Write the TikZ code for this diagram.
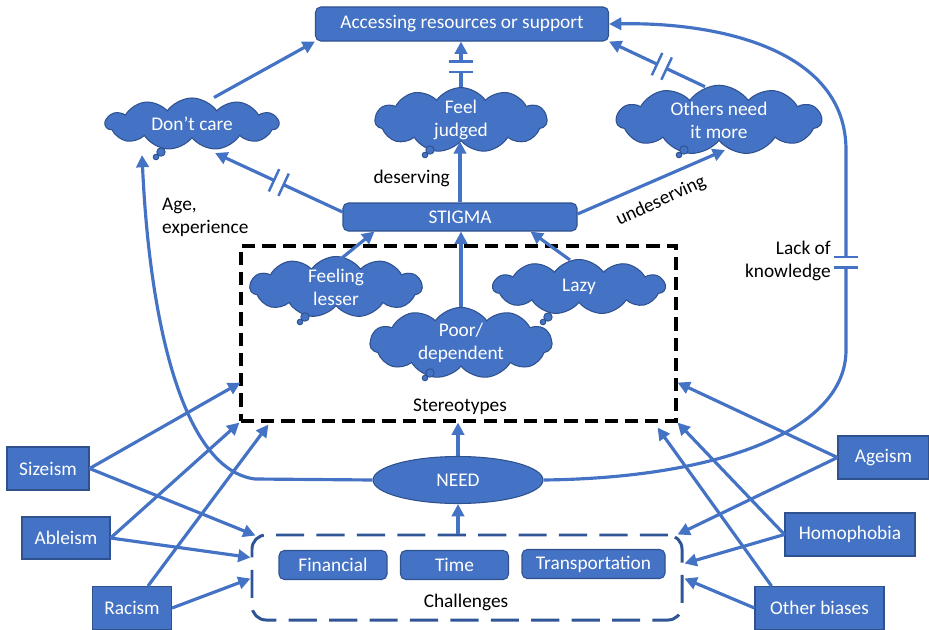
\documentclass[tikz,border=0pt]{standalone}
\usepackage{fontspec}
\setmainfont{Carlito}
\usetikzlibrary{arrows.meta,positioning,shapes,calc,decorations.markings}
\definecolor{officeblue}{HTML}{4472C4}
\definecolor{officeedge}{HTML}{2F528F}
\definecolor{chaledge}{HTML}{2F5597}

\begin{document}
\begin{tikzpicture}[
		x=0.2mm, y=-0.2mm,
		>={Triangle[length=7pt,width=7pt]},
		every node/.style={
			font=\fontsize{11}{13}\selectfont
		},
		bluebox/.style={
			draw=officeedge,
			fill=officeblue,
			text=white,
			line width=0.6pt,
			inner sep=0pt,
			minimum height=8.6mm
		},
		roundbox/.style={
			bluebox,
			rounded corners=3pt
		},
		thought/.style={
			cloud,
			cloud puffs=11,
			cloud puff arc=110,
			cloud ignores aspect,
			draw=officeedge,
			fill=officeblue,
			text=white,
			line width=0.6pt,
			align=center,
			inner sep=0pt,
			minimum width=3.44cm,
			minimum height=1.1cm
		},
		bubble/.style={
			draw=officeedge,
			fill=officeblue,
			line width=0.5pt
		},
		connector/.style={
			->,
			draw=officeblue,
			line width=1.8pt
		},
		brk/.style={
			postaction={decorate},
			decoration={markings,
				mark=at position #1 with {
					\fill[white] (-3pt,-7pt) rectangle (3pt,7pt);
					\draw[-,officeblue,line width=1.4pt] (-3pt,-7pt) -- (-3pt,7pt) (3pt,-7pt) -- (3pt,7pt);
				}}
		}
		]
		\useasboundingbox (0,0) rectangle (929,630);
		
		% top row
		\node[roundbox, minimum width=58.6mm, minimum height=6.8mm] (ACC) at (462,24) {Accessing resources or support};
		\node[thought, minimum width=3.46cm, minimum height=1.04cm] (DC) at (192,124) {Don’t care};
		\node[thought] (FJ) at (461,120) {Feel\\judged};
		\node[thought, minimum width=4.1cm] (ONM) at (719,120) {Others need\\it more};
		\node[roundbox, minimum width=46.8mm, minimum height=5.6mm] (STIG) at (460,217) {STIGMA};
		
		% stereotypes
		\node[draw, line width=1.8pt, dash pattern=on 7.5pt off 4pt, minimum width=87mm, minimum height=35mm] (STER) at (458.5,333.5) {};
		\node[thought] (FL) at (336,287) {Feeling\\lesser};
		\node[thought] (LAZY) at (579,287) {Lazy};
		\node[thought, minimum width=3.64cm, minimum height=1.04cm] (POOR) at (461,343) {Poor/\\dependent};
		\node (STERL) at (460,407) {Stereotypes};
		
		\filldraw[bubble] ($(DC)+(-31,28)$) circle (2.4pt) ($(DC)+(-36,33)$) circle (1.6pt);
		\filldraw[bubble] ($(FJ)+(-31,30)$) circle (2.4pt) ($(FJ)+(-36,35)$) circle (1.6pt);
		\filldraw[bubble] ($(ONM)+(-35,30)$) circle (2.4pt) ($(ONM)+(-40,35)$) circle (1.6pt);
		\filldraw[bubble] ($(FL)+(-31,30)$) circle (2.4pt) ($(FL)+(-36,35)$) circle (1.6pt);
		\filldraw[bubble] ($(LAZY)+(-31,30)$) circle (2.4pt) ($(LAZY)+(-36,35)$) circle (1.6pt);
		\filldraw[bubble] ($(POOR)+(-31,30)$) circle (2.4pt) ($(POOR)+(-36,35)$) circle (1.6pt);
		
		% need and challenges
		\node[ellipse, draw=officeedge, fill=officeblue, text=white, line width=0.6pt, minimum width=34mm, minimum height=9.4mm, inner sep=0pt] (NEED) at (458,480) {NEED};
		\node[draw=chaledge, line width=1.7pt, dash pattern=on 16pt off 7pt, rounded corners=8pt, minimum width=86mm, minimum height=17mm] (CHAL) at (467,577.5) {};
		\node[roundbox, minimum width=21.6mm, minimum height=5.8mm] (FIN) at (333,565) {Financial};
		\node[roundbox, minimum width=21.6mm, minimum height=5.8mm] (TIME) at (454.5,565) {Time};
		\node[roundbox, minimum width=28.6mm, minimum height=5.8mm] (TRANS) at (593.5,564) {Transportation};
		\node (CHALL) at (466,602) {Challenges};
		
		% biases
		\node[bluebox, minimum width=16.4mm] (SIZ) at (48,468.5) {Sizeism};
		\node[bluebox, minimum width=17.6mm, minimum height=8.4mm] (ABL) at (66,538) {Ableism};
		\node[bluebox, minimum width=15.8mm] (RAC) at (132,608) {Racism};
		\node[bluebox, minimum width=18.2mm] (AGE) at (883.5,457.5) {Ageism};
		\node[bluebox, minimum width=26mm] (HOM) at (850,534.5) {Homophobia};
		\node[bluebox, minimum width=25.8mm] (OTH) at (819.5,608) {Other biases};
		
		% labels
		\node[anchor=east] (DES) at (456,178) {deserving};
		\node[rotate=25] (UND) at (661,201) {undeserving};
		\node[anchor=west, align=left] (AGEX) at (156,217) {Age,\\experience};
		\node[anchor=east, align=right] (LACK) at (837,261) {Lack of\\knowledge};
		
		% connectors to access
		\draw[connector] ($(DC.north)+(22,0)$) -- (ACC.south west);
		\draw[connector, brk=0.45] (FJ.north) -- (FJ.north |- ACC.south);
		\draw[connector, brk=0.45] ($(ONM.north)+(-14,2)$) -- (ACC.south east);
		\draw[connector] (NEED.east) .. controls (720,478) and (846,430) .. (846,350) -- (846,150) .. controls (846,50) and (720,22) .. (ACC.east);
		\path[brk=0.5] (846,250) -- (846,274);
		\draw[connector] (NEED.west) -- (255,479) .. controls (185,470) and (150,330) .. ($(DC.center)+(-50,31)$);
		
		% stigma
		\draw[connector, brk=0.5] ($(STIG.west)+(0,-5)$) -- ($(DC.center)+(23,29)$);
		\draw[connector] (STIG.north) -- (STIG.north |- FJ.south);
		\draw[connector] ($(STIG.east)+(0,-3)$) -- ($(ONM.center)+(6,30)$);
		\draw[connector] ($(FL.center)+(1,-25)$) -- ($(STIG.south west)+(32,0)$);
		\draw[connector] (POOR.north) -- (POOR.north |- STIG.south);
		\draw[connector] ($(LAZY.center)+(-9,-27)$) -- ($(STIG.south east)+(-47,0)$);
		\draw[connector] (NEED.north) -- (NEED.north |- STER.south);
		\draw[connector] (NEED.south |- CHAL.north) -- (NEED.south);
		
		% biases to stereotypes and challenges
		\draw[connector] (SIZ.east) -- ($(STER.south west)+(1,-40)$);
		\draw[connector] (SIZ.east) -- ($(CHAL.north west)+(5,2)$);
		\draw[connector] (ABL.east) -- (STER.south west);
		\draw[connector] (ABL.east) -- ($(CHAL.west)+(0,-20)$);
		\draw[connector] ($(RAC.north)+(16,0)$) -- ($(STER.south west)+(29,2)$);
		\draw[connector] (RAC.east) -- ($(CHAL.west)+(0,1)$);
		\draw[connector] (AGE.west) -- ($(STER.south east)+(0,-40)$);
		\draw[connector] (AGE.west) -- ($(CHAL.north east)+(-6,1)$);
		\draw[connector] (HOM.west) -- (STER.south east);
		\draw[connector] (HOM.west) -- ($(CHAL.east)+(1,-14)$);
		\draw[connector] ($(OTH.north)+(-48,0)$) -- ($(STER.south east)+(-20,5)$);
		\draw[connector] (OTH.west) -- ($(CHAL.east)+(1,1)$);
		\end{tikzpicture}
\end{document}
